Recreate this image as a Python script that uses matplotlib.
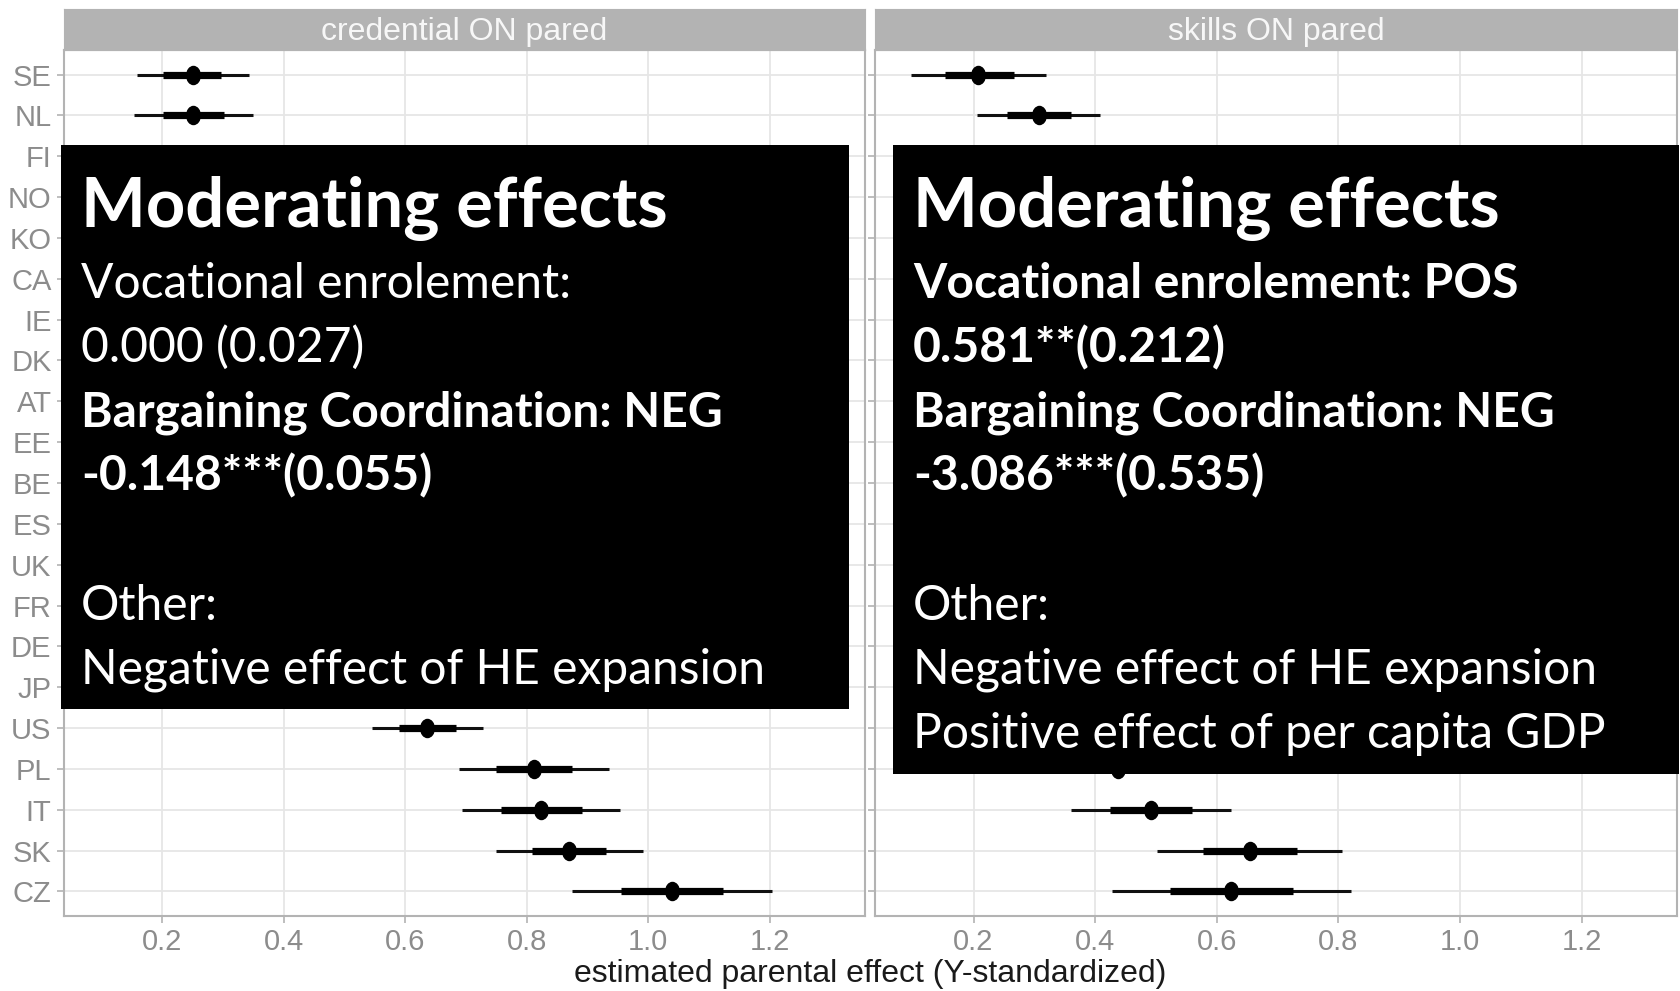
import numpy as np
import matplotlib.pyplot as plt
from matplotlib.patches import Rectangle
from matplotlib.path import Path

# ---------------- data ----------------
countries = ["SE", "NL", "FI", "NO", "KO", "CA", "IE", "DK", "AT", "EE", "BE",
             "ES", "UK", "FR", "DE", "JP", "US", "PL", "IT", "SK", "CZ"]

# credential ON pared: point estimate, 66% interval, 95% interval
cred_est = [0.251, 0.250, 0.29, 0.32, 0.35, 0.38, 0.40, 0.42, 0.44, 0.46, 0.48,
            0.50, 0.52, 0.54, 0.56, 0.59, 0.636, 0.812, 0.824, 0.870, 1.039]
cred_lo66 = [0.201, 0.201, 0.24, 0.27, 0.30, 0.33, 0.35, 0.37, 0.39, 0.41, 0.43,
             0.45, 0.47, 0.49, 0.51, 0.54, 0.590, 0.749, 0.758, 0.808, 0.955]
cred_hi66 = [0.297, 0.302, 0.34, 0.37, 0.40, 0.43, 0.45, 0.47, 0.49, 0.51, 0.53,
             0.55, 0.57, 0.59, 0.61, 0.64, 0.684, 0.874, 0.891, 0.931, 1.123]
cred_lo95 = [0.158, 0.153, 0.19, 0.22, 0.25, 0.28, 0.30, 0.32, 0.34, 0.36, 0.38,
             0.40, 0.42, 0.44, 0.46, 0.49, 0.545, 0.688, 0.694, 0.749, 0.874]
cred_hi95 = [0.343, 0.350, 0.39, 0.42, 0.45, 0.48, 0.50, 0.52, 0.54, 0.56, 0.58,
             0.60, 0.62, 0.64, 0.66, 0.69, 0.728, 0.936, 0.954, 0.991, 1.204]

# skills ON pared
skill_est = [0.208, 0.308, 0.25, 0.30, 0.35, 0.28, 0.33, 0.27, 0.38, 0.36, 0.31,
             0.40, 0.34, 0.37, 0.42, 0.45, 0.39, 0.438, 0.492, 0.654, 0.624]
skill_lo66 = [0.153, 0.255, 0.20, 0.25, 0.30, 0.23, 0.28, 0.22, 0.33, 0.31, 0.26,
              0.35, 0.29, 0.32, 0.37, 0.40, 0.34, 0.38, 0.425, 0.577, 0.523]
skill_hi66 = [0.266, 0.360, 0.30, 0.35, 0.40, 0.33, 0.38, 0.32, 0.43, 0.41, 0.36,
              0.45, 0.39, 0.42, 0.47, 0.50, 0.44, 0.50, 0.559, 0.732, 0.725]
skill_lo95 = [0.097, 0.206, 0.15, 0.20, 0.25, 0.18, 0.23, 0.17, 0.28, 0.26, 0.21,
              0.30, 0.24, 0.27, 0.32, 0.35, 0.29, 0.32, 0.361, 0.502, 0.427]
skill_hi95 = [0.319, 0.408, 0.35, 0.40, 0.45, 0.38, 0.43, 0.37, 0.48, 0.46, 0.41,
              0.50, 0.44, 0.47, 0.52, 0.55, 0.49, 0.56, 0.624, 0.806, 0.821]

panel_titles = ["credential ON pared", "skills ON pared"]
x_ticks = [0.2, 0.4, 0.6, 0.8, 1.0, 1.2]
x_label = "estimated parental effect (Y-standardized)"

left_box = ["Vocational enrolement:", "0.000 (0.027)",
            "Bargaining Coordination: NEG", "-0.148***(0.055)", "",
            "Other:", "Negative effect of HE expansion"]
left_bold = [False, False, True, True, False, False, False]
right_box = ["Vocational enrolement: POS", "0.581**(0.212)",
             "Bargaining Coordination: NEG", "-3.086***(0.535)", "",
             "Other:", "Negative effect of HE expansion",
             "Positive effect of per capita GDP"]
right_bold = [True, True, True, True, False, False, False, False]

# ---------------- figure ----------------
W, H = 1680, 991
fig = plt.figure(figsize=(W / 100, H / 100), dpi=100)
plt.rcParams['font.family'] = ['Liberation Sans', 'DejaVu Sans']


def fx(px):
    return px / W


def fy(py):
    return 1 - py / H


# slightly tall dot, like the reference
circ = Path.unit_circle()
dot = Path(circ.vertices * np.array([0.75, 1.0]), circ.codes)

panels = [
    (64, 865, cred_est, cred_lo66, cred_hi66, cred_lo95, cred_hi95),
    (875, 1677, skill_est, skill_lo66, skill_hi66, skill_lo95, skill_hi95),
]
top, bottom = 50, 916
y = np.arange(len(countries))

for i, (x0, x1, est, lo66, hi66, lo95, hi95) in enumerate(panels):
    ax = fig.add_axes([fx(x0), fy(bottom), fx(x1 - x0), (bottom - top) / H])
    ax.hlines(y, lo95, hi95, color="#111111", lw=2.2, zorder=3)
    ax.hlines(y, lo66, hi66, color="#000000", lw=5.2, zorder=4)
    ax.plot(est, y, ls="none", marker=dot, ms=13, color="#000000", zorder=5)

    ax.set_xlim(0.038, 1.357)
    ax.set_ylim(len(countries) - 1 + 0.6, -0.6)
    ax.set_xticks(x_ticks)
    ax.set_xticklabels([f"{v:.1f}" for v in x_ticks])
    ax.set_yticks(y)
    if i == 0:
        ax.set_yticklabels(countries)
    else:
        ax.set_yticklabels([])
    ax.grid(True, color="#E6E6E6", lw=1.3)
    ax.set_axisbelow(True)
    for s in ax.spines.values():
        s.set_color("#B3B3B3")
        s.set_linewidth(1.5)
    ax.tick_params(length=5, width=1.2, color="#B3B3B3", labelcolor="#8C8C8C",
                   labelsize=21, pad=4)

    strip = fig.add_axes([fx(x0), fy(top), fx(x1 - x0), (top - 9) / H])
    strip.set_facecolor("#B3B3B3")
    strip.set_xticks([])
    strip.set_yticks([])
    for s in strip.spines.values():
        s.set_color("#B3B3B3")
    strip.text(0.5, 0.45, panel_titles[i], ha="center", va="center",
               color="#F7F7F7", fontsize=23, transform=strip.transAxes)

fig.text(fx(870), fy(974), x_label, ha="center", va="center",
         fontsize=23, color="#1A1A1A")

# ---------------- black overlay boxes ----------------
boxes = [
    (61, 849, 145, 709, 81, left_box, left_bold),
    (893, 1679, 145, 774, 913, right_box, right_bold),
]
for bx0, bx1, by0, by1, tx, lines, bold in boxes:
    fig.patches.append(Rectangle((fx(bx0), fy(by1)), fx(bx1 - bx0), (by1 - by0) / H,
                                 transform=fig.transFigure, facecolor="black",
                                 edgecolor="none", zorder=10))
    fig.text(fx(tx), fy(227), "Moderating effects", ha="left", va="baseline",
             color="white", fontsize=49.5, fontweight="bold", family="Lato", zorder=11)
    for k, (txt, b) in enumerate(zip(lines, bold)):
        fig.text(fx(tx), fy(298 + 64.3 * k), txt, ha="left", va="baseline",
                 color="white", fontsize=34.6, family="Lato",
                 fontweight="bold" if b else "normal", zorder=11)

fig.savefig("out.png", dpi=100)
